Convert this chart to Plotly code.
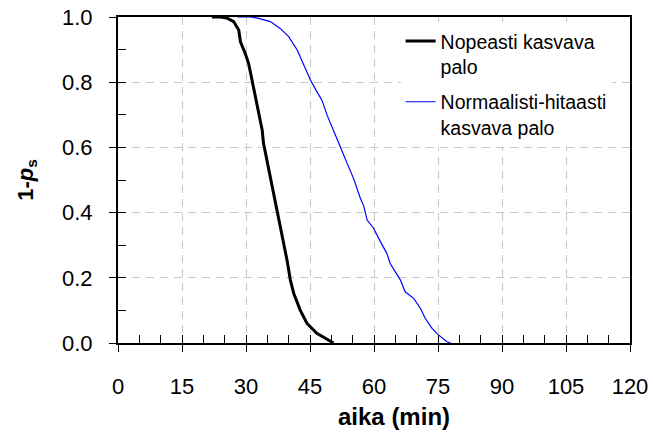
import plotly.graph_objects as go

# Data (time in minutes, 1-ps)
fast_t = [22, 24.0, 25.5, 27.1, 28.3, 28.7, 29.8, 30.6, 31.4, 32.2, 33.0, 33.8, 34.1, 34.9,
          35.7, 36.5, 37.3, 38.4, 39.6, 40.4, 41.2, 42.7, 44.3, 46.6, 49.8, 50.5]
fast_v = [1.0, 1.0, 0.997, 0.986, 0.96, 0.924, 0.889, 0.858, 0.807, 0.756, 0.694, 0.653, 0.613, 0.561,
          0.505, 0.449, 0.398, 0.336, 0.255, 0.193, 0.152, 0.101, 0.060, 0.030, 0.004, 0.0]

slow_t = [28, 31.0, 33.0, 35.7, 38.0, 40.0, 42.0, 43.5, 45.1, 46.6, 47.8, 49.0, 50.9, 52.1, 53.7,
          55.2, 56.8, 57.6, 58.4, 59.9, 61.5, 63.0, 63.8, 65.0, 66.2, 67.3, 69.3, 70.9, 72.0,
          73.6, 75.1, 77.1, 78.0]
slow_v = [1.0, 1.0, 0.996, 0.986, 0.965, 0.94, 0.899, 0.853, 0.807, 0.771, 0.745, 0.699, 0.643, 0.602, 0.551,
          0.505, 0.444, 0.42, 0.377, 0.352, 0.311, 0.275, 0.244, 0.219, 0.193, 0.157, 0.137, 0.106, 0.076,
          0.045, 0.025, 0.004, 0.0]

x_ticks = [0, 15, 30, 45, 60, 75, 90, 105, 120]
y_ticks = [0.0, 0.2, 0.4, 0.6, 0.8, 1.0]
names = ["Nopeasti kasvava<br>palo", "Normaalisti-hitaasti<br>kasvava palo"]
x_title = "aika (min)"

FONT = "Liberation Sans, Arial, sans-serif"
TICK_SIZE = 22

fig = go.Figure()
fig.add_trace(go.Scatter(x=fast_t, y=fast_v, mode="lines", name=names[0], legendgroup="a",
                         line=dict(color="black", width=3)))
fig.add_trace(go.Scatter(x=slow_t, y=slow_v, mode="lines", name=names[1], legendgroup="b",
                         line=dict(color="#0000ff", width=1.2)))
# invisible trace to create overlay axes for outward half of crossing ticks
fig.add_trace(go.Scatter(x=[None], y=[None], xaxis="x2", yaxis="y2", showlegend=False,
                         hoverinfo="skip"))

fig.update_layout(
    width=653, height=435,
    margin=dict(l=118, r=23, t=17, b=92, autoexpand=False),
    paper_bgcolor="white", plot_bgcolor="white",
    font=dict(family=FONT, size=TICK_SIZE, color="black"),
    showlegend=True,
    legend=dict(x=0.552, y=0.985, xanchor="left", yanchor="top",
                bgcolor="white", borderwidth=0, font=dict(size=19.5, family=FONT),
                valign="top", tracegroupgap=7, itemwidth=30),
    xaxis=dict(range=[0, 120], tickvals=x_ticks, ticks="inside", ticklen=8, tickwidth=1,
               tickcolor="black", showline=True, linecolor="black", linewidth=1.5,
               mirror=True, showgrid=True, gridcolor="#c8c8c8", griddash="8px,6px",
               gridwidth=1, zeroline=False, showticklabels=False, automargin=False,
               minor=dict(dtick=5, ticks="inside", ticklen=8, tickcolor="black", showgrid=False),
               ),
    yaxis=dict(range=[0, 1.0], tickvals=y_ticks, ticks="inside", ticklen=8, tickwidth=1,
               tickcolor="black", showline=True, linecolor="black", linewidth=1.5,
               mirror=True, showgrid=True, gridcolor="#c8c8c8", griddash="8px,6px",
               gridwidth=1, zeroline=False, showticklabels=False, automargin=False,
               minor=dict(dtick=0.1, ticks="inside", ticklen=8, tickcolor="black", showgrid=False),
               ),
    xaxis2=dict(range=[0, 120], overlaying="x", anchor="y2", side="bottom",
                tickvals=x_ticks, ticktext=[str(v) for v in x_ticks],
                ticks="outside", ticklen=8, tickcolor="black", tickwidth=1,
                showgrid=False, zeroline=False, showline=False, automargin=False,
                ticklabelstandoff=16, ticklabeloverflow="allow", tickfont=dict(size=TICK_SIZE)),
    yaxis2=dict(range=[0, 1.0], overlaying="y", anchor="x2", side="left",
                tickvals=y_ticks, ticktext=[f"{v:.1f}" for v in y_ticks],
                ticks="outside", ticklen=8, tickcolor="black", tickwidth=1,
                showgrid=False, zeroline=False, showline=False, automargin=False,
                ticklabelstandoff=12, ticklabeloverflow="allow", tickfont=dict(size=TICK_SIZE),
                title=dict(text="<b>1-<i>p</i><sub>s</sub></b>", font=dict(size=TICK_SIZE), standoff=22)),
    annotations=[dict(text=f"<b>{x_title}</b>", xref="paper", yref="paper",
                      x=0.539, y=-0.225, xanchor="center", yanchor="middle",
                      showarrow=False, font=dict(size=24, family=FONT))],
)

# remove the default 8px page margin so the figure fills the window exactly
fig.write_html("out.html", config={"displayModeBar": False},
               post_script="document.body.style.margin='0';document.body.style.overflow='hidden';")
